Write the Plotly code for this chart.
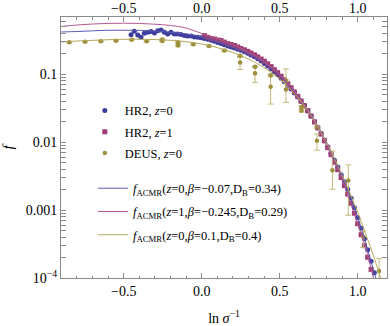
import plotly.graph_objects as go

# HR2, z=0 (ln sigma^-1, f)
hr2_z0_x = [-0.453, -0.432, -0.410, -0.389, -0.368, -0.346, -0.325, -0.303, -0.282, -0.261,
            -0.239, -0.218, -0.197, -0.175, -0.154, -0.132, -0.111, -0.090, -0.068, -0.047,
            -0.025, -0.004, 0.017, 0.039, 0.060, 0.081, 0.103, 0.124, 0.145, 0.167,
            0.188, 0.210, 0.231, 0.252, 0.274, 0.295, 0.316, 0.338, 0.359, 0.381,
            0.402, 0.423, 0.445, 0.466, 0.487, 0.509, 0.530, 0.552, 0.573, 0.594,
            0.616, 0.637, 0.658, 0.680, 0.701, 0.723, 0.744, 0.765, 0.787, 0.808,
            0.829, 0.851, 0.872, 0.894, 0.915, 0.936, 0.958, 0.979, 1.000, 1.022,
            1.043, 1.064, 1.086, 1.107]
hr2_z0_f = [0.384, 0.431, 0.380, 0.352, 0.403, 0.416, 0.428, 0.406, 0.440, 0.450,
            0.416, 0.393, 0.416, 0.393, 0.393, 0.386, 0.373, 0.367, 0.367, 0.355,
            0.352, 0.347, 0.337, 0.328, 0.318, 0.307, 0.295, 0.284, 0.272, 0.261,
            0.253, 0.244, 0.234, 0.226, 0.215, 0.204, 0.193, 0.182, 0.170, 0.157,
            0.144, 0.133, 0.121, 0.109, 0.0986, 0.0875, 0.0778, 0.0689, 0.0607, 0.0530,
            0.0462, 0.0397, 0.0341, 0.0288, 0.0243, 0.0201, 0.0164, 0.0134, 0.0107, 0.00861,
            0.00690, 0.00544, 0.00430, 0.00333, 0.00262, 0.00203, 0.00150, 0.00108, 0.000773, 0.000541,
            0.000378, 0.000261, 0.000176, 0.000119]

# HR2, z=1
hr2_z1_x = [0.017, 0.039, 0.060, 0.081, 0.103, 0.124, 0.145, 0.167, 0.188, 0.210,
            0.231, 0.252, 0.274, 0.295, 0.316, 0.338, 0.359, 0.381, 0.402, 0.423,
            0.445, 0.466, 0.487, 0.509, 0.530, 0.552, 0.573, 0.594, 0.616, 0.637,
            0.658, 0.680, 0.701, 0.723, 0.744, 0.765, 0.787, 0.808, 0.829, 0.851,
            0.872, 0.894, 0.915, 0.936, 0.958, 0.979, 1.000, 1.022, 1.043, 1.064,
            1.086]
hr2_z1_f = [0.373, 0.352, 0.337, 0.332, 0.321, 0.315, 0.299, 0.284, 0.275, 0.266,
            0.253, 0.240, 0.230, 0.218, 0.206, 0.194, 0.181, 0.168, 0.156, 0.143,
            0.130, 0.117, 0.106, 0.0938, 0.0830, 0.0729, 0.0637, 0.0552, 0.0475, 0.0406,
            0.0347, 0.0292, 0.0243, 0.0199, 0.0163, 0.0132, 0.0105, 0.00832, 0.00656, 0.00508,
            0.00394, 0.00301, 0.00229, 0.00172, 0.00126, 0.00090, 0.000630, 0.000434, 0.000299, 0.000202,
            0.000134]

# DEUS, z=0 with error bounds
deus_x = [-0.849, -0.748, -0.647, -0.549, -0.449, -0.353, -0.253, -0.253, -0.152, -0.152,
          -0.054, 0.047, 0.145, 0.246, 0.246, 0.342, 0.342, 0.442, 0.442, 0.540,
          0.540, 0.640, 0.640, 0.739, 0.739, 0.838, 0.940, 1.036, 1.137]
deus_f = [0.296, 0.303, 0.307, 0.313, 0.324, 0.307, 0.326, 0.310, 0.296, 0.266,
          0.277, 0.261, 0.224, 0.188, 0.149, 0.129, 0.104, 0.096, 0.0656, 0.0805,
          0.0597, 0.033, 0.029, 0.0167, 0.0105, 0.00388, 0.00272, 0.000406, 0.000127]
deus_lo = [0.288, 0.296, 0.300, 0.306, 0.317, 0.300, 0.319, 0.303, 0.289, 0.258,
           0.270, 0.254, 0.217, 0.182, 0.118, 0.125, 0.0762, 0.093, 0.0365, 0.078,
           0.0386, 0.0318, 0.028, 0.0161, 0.00764, 0.00203, 0.000841, 0.000281, 0.0000955]
deus_hi = [0.304, 0.310, 0.314, 0.320, 0.331, 0.314, 0.333, 0.317, 0.303, 0.274,
           0.284, 0.268, 0.231, 0.194, 0.178, 0.133, 0.130, 0.099, 0.101, 0.083,
           0.120, 0.0342, 0.030, 0.0173, 0.0132, 0.0074, 0.00464, 0.000493, 0.000193]

# fitted f_ACMR curves
fit_x = [-0.9, -0.8, -0.7, -0.6, -0.5, -0.4, -0.3, -0.2, -0.1, 0.0, 0.1, 0.2,
         0.3, 0.4, 0.5, 0.6, 0.7, 0.8, 0.9, 1.0, 1.05, 1.1, 1.15]
fit_z0 = [0.421, 0.428, 0.438, 0.446, 0.447, 0.444, 0.435, 0.418, 0.393, 0.355, 0.305, 0.253,
          0.203, 0.149, 0.0960, 0.0539, 0.0260, 0.0100, 0.00316, 0.000785, 0.000337, 0.000135, 0.0000520]
fit_z1 = [0.507, 0.533, 0.552, 0.563, 0.567, 0.563, 0.548, 0.525, 0.482, 0.400, 0.337, 0.275,
          0.213, 0.155, 0.0993, 0.0548, 0.0251, 0.00890, 0.00281, 0.000620, 0.000286, 0.000103, 0.0000380]
fit_deus = [0.299, 0.310, 0.317, 0.324, 0.328, 0.329, 0.326, 0.317, 0.303, 0.280, 0.248, 0.210,
            0.168, 0.126, 0.0853, 0.0504, 0.0251, 0.0100, 0.00327, 0.000931, 0.000456, 0.000217, 0.0000955]

BLUE = '#3d3d9e'
MAGENTA = '#9e3d74'
GOLD = '#9e8f3d'
FONT = 'Liberation Serif'
AXIS = '#8a8a8a'

fig = go.Figure()

fig.add_trace(go.Scatter(
    x=hr2_z0_x, y=hr2_z0_f, mode='markers', name='HR2, <i>z</i>=0',
    marker=dict(symbol='circle', size=5, color=BLUE), legend='legend', legendgroup='a'))
fig.add_trace(go.Scatter(
    x=hr2_z1_x, y=hr2_z1_f, mode='markers', name='HR2, <i>z</i>=1',
    marker=dict(symbol='square', size=5, color=MAGENTA), legend='legend', legendgroup='b'))
fig.add_trace(go.Scatter(
    x=deus_x, y=deus_f, mode='markers', name='DEUS, <i>z</i>=0',
    marker=dict(symbol='circle', size=4.5, color=GOLD),
    error_y=dict(type='data', symmetric=False,
                 array=[h - f for h, f in zip(deus_hi, deus_f)],
                 arrayminus=[f - l for f, l in zip(deus_f, deus_lo)],
                 color='#c2b97a', thickness=1, width=3),
    legend='legend', legendgroup='c'))

fig.add_trace(go.Scatter(
    x=fit_x, y=fit_z0, mode='lines', line=dict(color='#5a5ab4', width=1, shape='spline'),
    name='<i>f</i><sub>ACMR</sub>(<i>z</i>=0,<i>β</i>=−0.07,D<sub>B</sub>=0.34)',
    legend='legend2', legendgroup='d'))
fig.add_trace(go.Scatter(
    x=fit_x, y=fit_z1, mode='lines', line=dict(color='#b45a8e', width=1, shape='spline'),
    name='<i>f</i><sub>ACMR</sub>(<i>z</i>=1,<i>β</i>=−0.245,D<sub>B</sub>=0.29)',
    legend='legend2', legendgroup='e'))
fig.add_trace(go.Scatter(
    x=fit_x, y=fit_deus, mode='lines', line=dict(color='#b4a85a', width=1, shape='spline'),
    name='<i>f</i><sub>ACMR</sub>(<i>z</i>=0,<i>β</i>=0.1,D<sub>B</sub>=0.4)',
    legend='legend2', legendgroup='f'))

xrange = [-0.902, 1.188]
minor_y = [m * 10 ** e for e in range(-4, 0) for m in range(2, 10)]

fig.update_layout(
    width=390, height=326,
    margin=dict(l=61, r=3, t=17, b=48),
    paper_bgcolor='white', plot_bgcolor='white',
    font=dict(family=FONT, size=14, color='black'),
    showlegend=True,
    xaxis=dict(
        range=xrange, showgrid=False, zeroline=False, automargin=False,
        showline=True, linecolor=AXIS, linewidth=1, mirror='allticks',
        ticks='inside', ticklen=5, tickcolor=AXIS, tickwidth=1,
        tickvals=[-0.5, 0.0, 0.5, 1.0], ticktext=['−0.5', '0.0', '0.5', '1.0'],
        minor=dict(ticks='inside', ticklen=2.5, tickcolor=AXIS, dtick=0.1, tick0=0, showgrid=False),
        title=dict(text='ln <i>σ</i><sup>−1</sup>', standoff=16, font=dict(size=14)),
        tickfont=dict(size=14),
    ),
    xaxis2=dict(
        range=xrange, overlaying='x', side='top', showgrid=False, zeroline=False,
        showline=False, ticks='', matches='x', automargin=False,
        tickvals=[-0.5, 0.0, 0.5, 1.0], ticktext=['−0.5', '0.0', '0.5', '1.0'],
        tickfont=dict(size=14),
    ),
    yaxis=dict(
        type='log', range=[-4, -0.155], showgrid=False, zeroline=False, automargin=False,
        showline=True, linecolor=AXIS, linewidth=1, mirror='allticks',
        ticks='inside', ticklen=5, tickcolor=AXIS, tickwidth=1,
        tickvals=[0.1, 0.01, 0.001, 0.0001],
        ticktext=['0.1', '0.01', '0.001', '10<sup>−4</sup>'],
        minor=dict(ticks='inside', ticklen=2.5, tickcolor=AXIS, tickvals=minor_y, showgrid=False),
        title=dict(text='<i>f</i>', standoff=9, font=dict(size=15)),
        tickfont=dict(size=14),
    ),
    legend=dict(
        x=0.073, y=0.698, xanchor='left', yanchor='top', traceorder='grouped',
        bgcolor='rgba(0,0,0,0)', borderwidth=0,
        font=dict(family=FONT, size=12.5), itemwidth=30, tracegroupgap=2,
    ),
    legend2=dict(
        x=0.098, y=0.40, xanchor='left', yanchor='top', traceorder='grouped',
        bgcolor='rgba(0,0,0,0)', borderwidth=0,
        font=dict(family=FONT, size=12.5), itemwidth=30, tracegroupgap=4,
    ),
)

# an empty trace so the top axis is drawn
fig.add_trace(go.Scatter(x=[], y=[], xaxis='x2', showlegend=False))

# the page body has a default 8px margin; drop it so the figure fills the window
fig.write_html("out.html", config={'displayModeBar': False},
               post_script="document.body.style.margin = '0px';")
